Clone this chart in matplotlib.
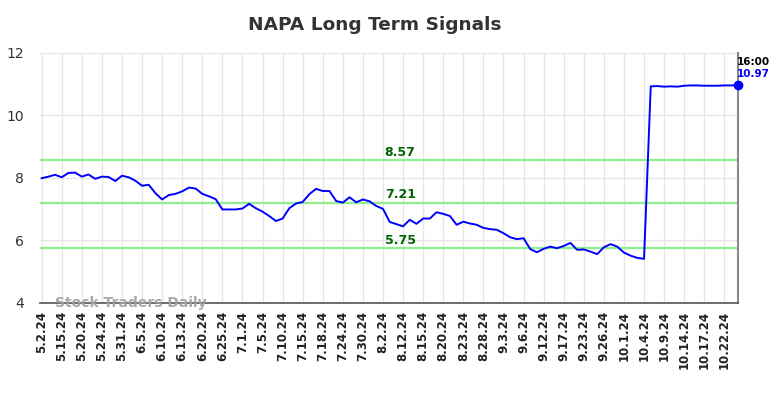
import matplotlib
matplotlib.use("Agg")
import matplotlib.pyplot as plt

title = "NAPA Long Term Signals"
tick_labels = ["5.2.24", "5.15.24", "5.20.24", "5.24.24", "5.31.24", "6.5.24", "6.10.24",
               "6.13.24", "6.20.24", "6.25.24", "7.1.24", "7.5.24", "7.10.24", "7.15.24",
               "7.18.24", "7.24.24", "7.30.24", "8.2.24", "8.12.24", "8.15.24", "8.20.24",
               "8.23.24", "8.28.24", "9.3.24", "9.6.24", "9.12.24", "9.17.24", "9.23.24",
               "9.26.24", "10.1.24", "10.4.24", "10.9.24", "10.14.24", "10.17.24", "10.22.24"]
prices = [7.99, 8.04, 8.10, 8.02, 8.16, 8.17, 8.04, 8.11, 7.97, 8.04, 8.03, 7.90, 8.07, 8.02,
          7.91, 7.75, 7.78, 7.51, 7.31, 7.45, 7.49, 7.57, 7.69, 7.66, 7.49, 7.41, 7.32, 6.99,
          6.99, 6.99, 7.02, 7.17, 7.03, 6.92, 6.78, 6.62, 6.70, 7.03, 7.18, 7.23, 7.48, 7.65,
          7.58, 7.58, 7.26, 7.21, 7.38, 7.22, 7.31, 7.25, 7.10, 7.01, 6.59, 6.52, 6.45, 6.66,
          6.53, 6.70, 6.70, 6.90, 6.85, 6.78, 6.50, 6.60, 6.54, 6.50, 6.40, 6.36, 6.34, 6.23,
          6.10, 6.04, 6.07, 5.72, 5.62, 5.73, 5.80, 5.75, 5.82, 5.92, 5.70, 5.71, 5.64, 5.56,
          5.78, 5.88, 5.80, 5.61, 5.51, 5.44, 5.41, 10.93, 10.94, 10.92, 10.93, 10.92, 10.95,
          10.96, 10.96, 10.95, 10.95, 10.95, 10.96, 10.96, 10.97]
signal_levels = [8.57, 7.21, 5.75]
last_time = "16:00"
last_value = 10.97
watermark = "Stock Traders Daily"

fig = plt.figure(figsize=(7.84, 3.98), dpi=100)
ax = fig.add_axes([0.051, 0.239, 0.890, 0.628])

n = len(prices)
xs = list(range(n))
tick_pos = list(range(0, 3 * len(tick_labels), 3))

ax.set_xlim(-0.25, n - 1)
ax.set_ylim(4, 12)
ax.set_yticks([4, 6, 8, 10, 12])
ax.set_xticks(tick_pos)
ax.set_xticklabels(tick_labels, rotation=90, fontsize=8.5, fontweight="bold", color="#222222")
ax.tick_params(axis="y", labelsize=10, colors="#333333", length=0, pad=11.5)
ax.tick_params(axis="x", length=0, pad=6)
ax.grid(True, color="#e6e6e6", linewidth=1)
ax.set_axisbelow(True)

for s in ["top", "left"]:
    ax.spines[s].set_visible(False)
ax.spines["bottom"].set_color("#555555")
ax.spines["bottom"].set_linewidth(1.2)
ax.spines["right"].set_color("#888888")
ax.spines["right"].set_linewidth(1.5)

mid = (n - 1) * 0.515
for lv in signal_levels:
    ax.axhline(lv, color="#90ee90", linewidth=1.6, zorder=2)
    ax.text(mid, lv + 0.05, f"{lv:.2f}", color="#006400", fontsize=9, fontweight="bold",
            ha="center", va="bottom", zorder=5)

ax.plot(xs, prices, color="blue", linewidth=1.4, zorder=4)
ax.plot([xs[-1]], [prices[-1]], "o", color="blue", markersize=6, zorder=6, clip_on=False)

ax.text(xs[-1] - 0.2, 11.72, last_time, fontsize=7.5, fontweight="bold", color="black",
        ha="left", va="center")
ax.text(xs[-1] - 0.2, 11.32, f"{last_value:.2f}", fontsize=7.5, fontweight="bold", color="blue",
        ha="left", va="center")

ax.text(2, 4.0, watermark, fontsize=10, fontweight="bold", color="#a0a0a0", alpha=0.9,
        ha="left", va="center", zorder=3)

fig.text(0.478, 0.937, title, ha="center", va="center", fontsize=13.3, fontweight="bold",
         color="#333333")

fig.savefig("out.png", dpi=100)
